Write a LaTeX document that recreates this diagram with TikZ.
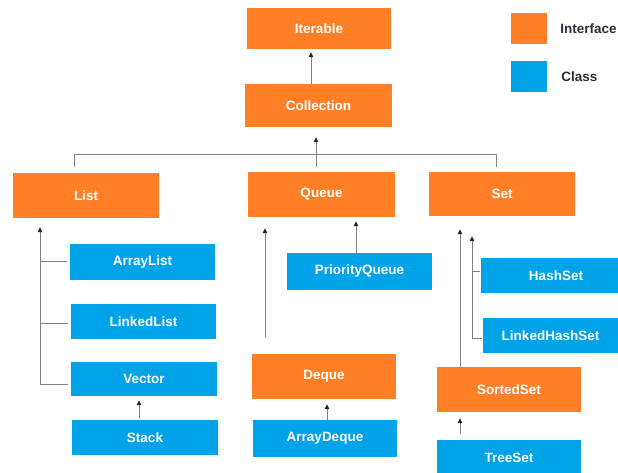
\documentclass[tikz,border=0pt]{standalone}
\usepackage{fontspec}
\setmainfont{Liberation Sans}
\usetikzlibrary{arrows.meta,calc}
\definecolor{ifc}{RGB}{255,127,39}
\definecolor{cls}{RGB}{0,162,232}
\definecolor{lnc}{RGB}{128,128,128}
\definecolor{txc}{RGB}{45,45,55}
\tikzset{
  box/.style={draw=none, minimum width=#1, inner sep=0pt, text=white,
    font=\fontsize{13.5}{15}\selectfont\bfseries},
  ibox/.style={box=146pt, fill=ifc, minimum height=45pt},
  cbox/.style={box=146pt, fill=cls, minimum height=36pt},
  conn/.style={draw=lnc, line width=1pt},
  arr/.style={conn, -{Triangle[length=5pt,width=4.5pt,color=black!85]}},
  legtext/.style={anchor=west, inner sep=0pt, text=txc,
    font=\fontsize{13.5}{15}\selectfont\bfseries}
}
\begin{document}
\begin{tikzpicture}[x=1pt,y=-1pt]
\useasboundingbox (0,0) rectangle (618,473);
\clip (0,0) rectangle (618,473);
\fill[white] (0,0) rectangle (618,473);

% interfaces
\node[ibox, minimum width=144pt, minimum height=41pt] (Iterable) at (319,28.5) {Iterable};
\node[ibox, minimum width=147pt, minimum height=43pt] (Collection) at (318.5,105.5) {Collection};
\node[ibox] (List) at (86,195.5) {List};
\node[ibox, minimum width=147pt] (Queue) at (321.5,194.5) {Queue};
\node[ibox, minimum height=44pt] (Set) at (502,194) {Set};
\node[ibox, minimum width=144pt] (Deque) at (324,376.5) {Deque};
\node[ibox, minimum width=144pt] (SortedSet) at (509,389.5) {SortedSet};

% classes
\node[cbox, minimum width=145pt] (ArrayList) at (142.5,262) {ArrayList};
\node[cbox, minimum width=145pt, minimum height=35pt] (LinkedList) at (143.5,321.5) {LinkedList};
\node[cbox, minimum height=34pt] (Vector) at (144,379) {Vector};
\node[cbox, minimum height=35pt] (Stack) at (145,437.5) {Stack};
\node[cbox, minimum width=145pt, minimum height=37pt] (PriorityQueue) at (359.5,271.5) {PriorityQueue};
\node[cbox, minimum width=144pt, minimum height=37pt] (ArrayDeque) at (325,438.5) {ArrayDeque};
\node[cbox, minimum width=150pt, minimum height=35pt] (HashSet) at (556,275.5) {HashSet};
\node[cbox, minimum width=135pt, minimum height=35pt] (LinkedHashSet) at (550.5,335.5) {LinkedHashSet};
\node[cbox, minimum width=144pt] (TreeSet) at (509,458) {TreeSet};

% legend
\node[fill=ifc, minimum width=36pt, minimum height=31pt, inner sep=0pt] (legI) at (529,28.5) {};
\node[fill=cls, minimum width=36pt, minimum height=31pt, inner sep=0pt] (legC) at (529,76.5) {};
\node[legtext] (legIt) at ([xshift=13pt]legI.east) {Interface};
\node[legtext] (legCt) at ([xshift=14pt]legC.east) {Class};

% Collection -> Iterable
\draw[arr] ([xshift=-7.5pt]Collection.north) -- ([xshift=-8pt,yshift=-3pt]Iterable.south);

% bus to Collection
\coordinate (busL) at ([xshift=-12pt,yshift=6pt]List.north);
\coordinate (busR) at ([xshift=-6pt,yshift=5pt]Set.north);
\coordinate (busY) at ([yshift=-27pt]Collection.south);
\draw[conn] (busL) |- (busY -| busR) -- (busR);
\draw[arr] ([xshift=-5.5pt,yshift=5pt]Queue.north) -- ([xshift=-2.5pt,yshift=-10pt]Collection.south);

% List family
\coordinate (Ltip) at ([xshift=-46pt,yshift=-9pt]List.south);
\draw[arr] ([xshift=-3pt,yshift=-5pt]Vector.west) -| (Ltip);
\draw[conn] ([xshift=-3pt,yshift=1pt]ArrayList.west) -- ([yshift=1pt]ArrayList.west -| Ltip);
\draw[conn] ([xshift=-3pt,yshift=-1.5pt]LinkedList.west) -- ([yshift=-1.5pt]LinkedList.west -| Ltip);
\draw[arr] ([xshift=-6pt,yshift=2pt]Stack.north) -- ([xshift=-5pt,yshift=-4pt]Vector.south);

% Queue family
\draw[arr] ([xshift=-59pt,yshift=17pt]Deque.north) -- ([xshift=-56.5pt,yshift=-11pt]Queue.south);
\draw[arr] ([xshift=-3.5pt]PriorityQueue.north) -- ([xshift=34.5pt,yshift=-4pt]Queue.south);
\draw[arr] ([xshift=2pt]ArrayDeque.north) -- ([xshift=3pt,yshift=-5pt]Deque.south);

% Set family
\draw[arr] ([xshift=-49pt]SortedSet.north) -- ([xshift=-42pt,yshift=-13pt]Set.south);
\coordinate (Stip) at ([xshift=-30pt,yshift=-20pt]Set.south);
\draw[arr] ([xshift=-1pt,yshift=-2.5pt]LinkedHashSet.west) -| (Stip);
\draw[conn] ([xshift=-1pt,yshift=4.5pt]HashSet.west) -- ([yshift=4.5pt]HashSet.west -| Stip);
\draw[arr] ([xshift=-49pt,yshift=6pt]TreeSet.north) -- ([xshift=-49pt,yshift=-6pt]SortedSet.south);
\end{tikzpicture}
\end{document}
